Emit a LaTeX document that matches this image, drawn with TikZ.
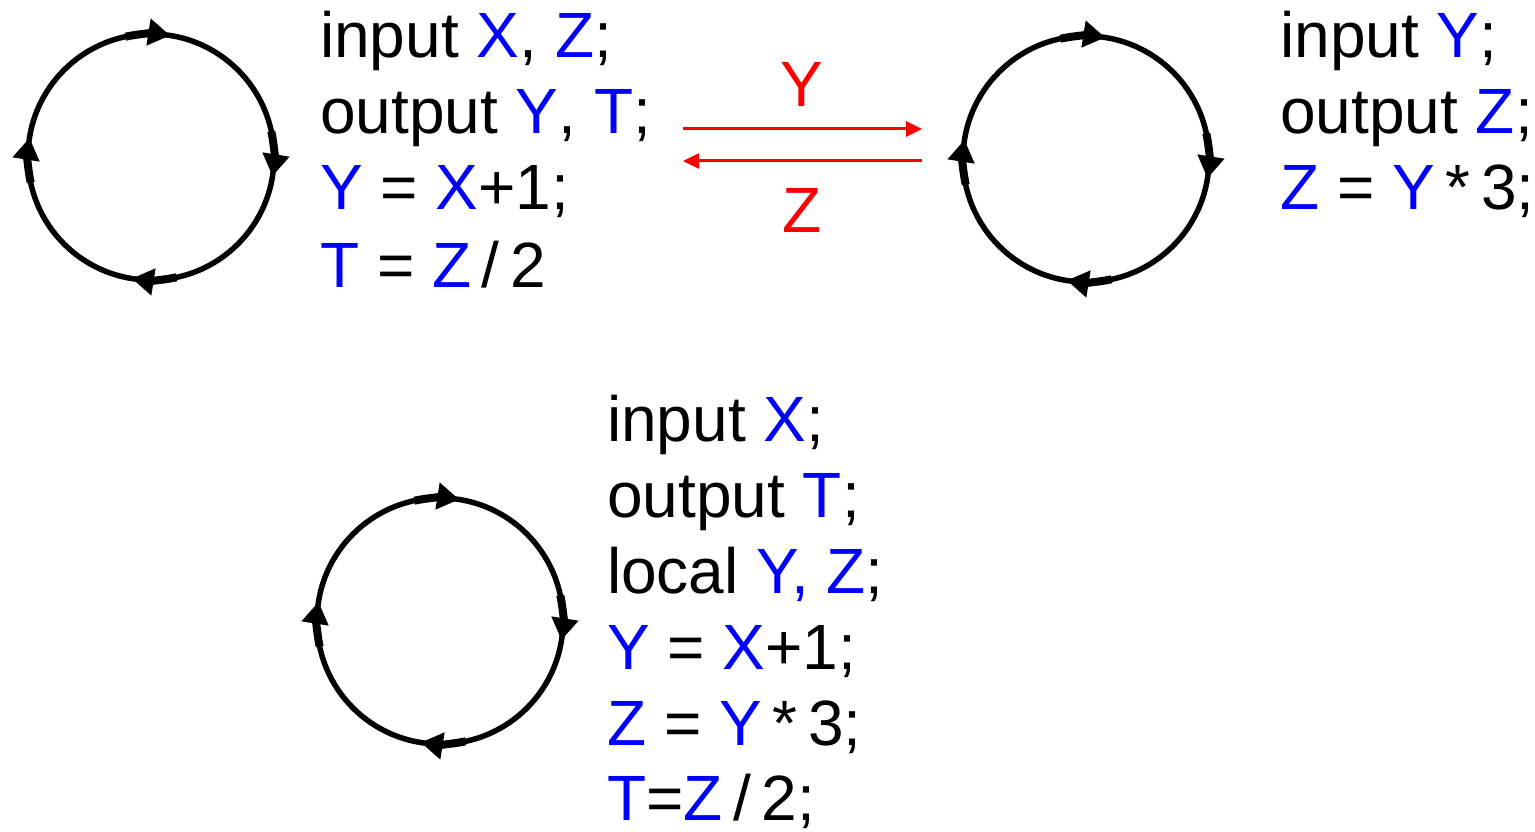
\documentclass[tikz,border=0pt]{standalone}
\usepackage{fontspec}
\setmainfont{Liberation Sans}
\usetikzlibrary{arrows.meta}
\definecolor{vblue}{RGB}{0,0,255}
\definecolor{vred}{RGB}{255,0,0}
\newcommand{\B}[1]{\textcolor{vblue}{#1}}
\tikzset{
  codeline/.style={anchor=base west, inner sep=0pt, font=\fontsize{64}{76}\selectfont},
  ring/.style={line width=5.5pt, black},
  ringarrow/.style={line width=8pt, -{Triangle[length=22pt,width=26pt]}},
  msg/.style={vred, line width=3pt, -{Triangle[length=16pt,width=15pt]}},
  msglabel/.style={vred, inner sep=0pt, font=\fontsize{64}{76}\selectfont},
}
\begin{document}
\begin{tikzpicture}[x=1pt,y=-1pt]
\useasboundingbox (0,0) rectangle (1535,832);
% circles with clockwise arrows
\foreach \cx/\cy/\nm in {151/157/L, 1086/159/R, 440/621/B}{
  \coordinate (\nm) at (\cx,\cy);
  \draw[ring] (\nm) circle[radius=123];
  \foreach \a in {90,0,-90,180}{
    \draw[ringarrow] (\nm) ++({\a-12}:123) arc[start angle={\a-12}, end angle={\a+9}, radius=123];
  }
}
% top-left block
\node[codeline] (l1) at (320,58) {input \B{X}, \B{Z};};
\node[codeline] (l2) at (320,134) {output \B{Y}, \B{T};};
\node[codeline] (l3) at (320,210) {\B{Y} = \B{X}+1;};
\node[codeline] (l4) at (320,287) {\B{T} = \B{Z}\,/\,2};
% right block
\node[codeline] (r1) at (1280,58) {input \B{Y};};
\node[codeline] (r2) at (1280,134) {output \B{Z};};
\node[codeline] (r3) at (1280,210) {\B{Z} = \B{Y}\,*\,3;};
% bottom block
\node[codeline] (b1) at (607,441) {input \B{X};};
\node[codeline] (b2) at (607,517) {output \B{T};};
\node[codeline] (b3) at (607,593) {local \B{Y, Z};};
\node[codeline] (b4) at (607,669) {\B{Y} = \B{X}+1;};
\node[codeline] (b5) at (607,745) {\B{Z} = \B{Y}\,*\,3;};
\node[codeline] (b6) at (607,820) {\B{T}=\B{Z}\,/\,2;};
% messages
\coordinate (ma) at (683,129);
\coordinate (mb) at (922,129);
\coordinate (mc) at (922,161);
\coordinate (md) at (683,161);
\draw[msg] (ma) -- (mb);
\draw[msg] (mc) -- (md);
\node[msglabel] (ly) at (802,84) {Y};
\node[msglabel] (lz) at (802,210) {Z};
\end{tikzpicture}
\end{document}
